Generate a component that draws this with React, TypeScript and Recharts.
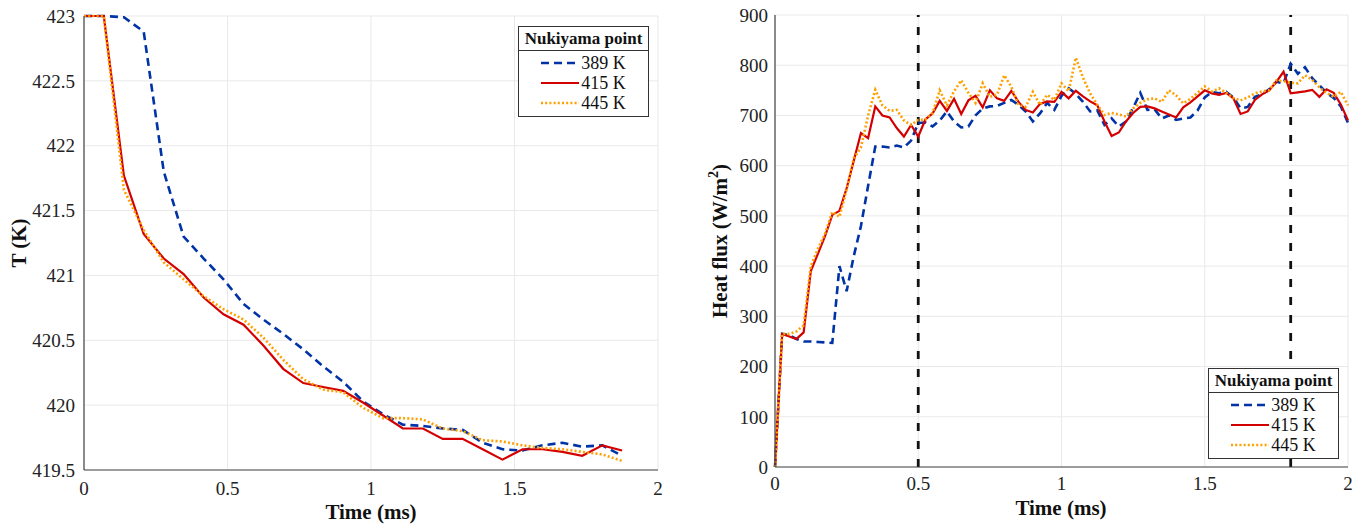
import React from "react";
import {
  CartesianGrid,
  Legend,
  Line,
  LineChart,
  ReferenceLine,
  XAxis,
  YAxis,
} from "recharts";

// ---- left panel: temperature (K) vs time (ms)
const leftTime = [
  0, 0.069, 0.139, 0.208, 0.278, 0.347, 0.417, 0.486, 0.556, 0.625, 0.694,
  0.764, 0.833, 0.903, 0.972, 1.042, 1.111, 1.181, 1.25, 1.319, 1.389, 1.458,
  1.528, 1.597, 1.667, 1.736, 1.806, 1.875,
];
const temp389 = [
  423, 423, 422.99, 422.88, 421.8, 421.3, 421.13, 420.97, 420.78, 420.66,
  420.55, 420.43, 420.3, 420.18, 420.03, 419.93, 419.85, 419.84, 419.82,
  419.81, 419.71, 419.66, 419.65, 419.69, 419.71, 419.68, 419.69, 419.61,
];
const temp415 = [
  423, 423, 421.77, 421.32, 421.13, 421.01, 420.83, 420.7, 420.62, 420.46,
  420.28, 420.17, 420.14, 420.11, 420.02, 419.92, 419.82, 419.82, 419.74,
  419.74, 419.66, 419.58, 419.66, 419.66, 419.64, 419.61, 419.69, 419.65,
];
const temp445 = [
  423, 423, 421.66, 421.35, 421.1, 420.97, 420.84, 420.74, 420.66, 420.52,
  420.35, 420.2, 420.12, 420.1, 419.98, 419.9, 419.9, 419.89, 419.82, 419.8,
  419.73, 419.72, 419.69, 419.67, 419.66, 419.64, 419.62, 419.57,
];

// ---- right panel: heat flux (W/m2) vs time (ms)
const rightTime = [
  0, 0.025, 0.05, 0.075, 0.1, 0.125, 0.15, 0.175, 0.2, 0.225, 0.25, 0.275,
  0.3, 0.325, 0.35, 0.375, 0.4, 0.425, 0.45, 0.475, 0.5, 0.525, 0.55, 0.575,
  0.6, 0.625, 0.65, 0.675, 0.7, 0.725, 0.75, 0.775, 0.8, 0.825, 0.85, 0.875,
  0.9, 0.925, 0.95, 0.975, 1, 1.025, 1.05, 1.075, 1.1, 1.125, 1.15, 1.175,
  1.2, 1.225, 1.25, 1.275, 1.3, 1.325, 1.35, 1.375, 1.4, 1.425, 1.45, 1.475,
  1.5, 1.525, 1.55, 1.575, 1.6, 1.625, 1.65, 1.675, 1.7, 1.725, 1.75, 1.775,
  1.8, 1.825, 1.85, 1.875, 1.9, 1.925, 1.95, 1.975, 2,
];
const flux389 = [
  0, 265, 262, 255, 250, 250, 249, 248, 247, 400, 350, 420, 480, 560, 638,
  638, 636, 640, 636, 650, 685, 686, 678, 690, 708, 688, 676, 678, 700, 714,
  718, 719, 725, 731, 721, 708, 688, 704, 725, 711, 739, 754, 743, 727, 708,
  710, 681, 694, 678, 688, 715, 745, 711, 712, 694, 700, 691, 694, 696, 710,
  736, 747, 744, 747, 736, 714, 717, 737, 742, 752, 767, 764, 803, 783, 796,
  774, 760, 745, 735, 718, 685,
];
const flux415 = [
  0, 265, 260, 255, 268, 390, 425, 460, 502, 510, 555, 610, 665, 655, 718,
  700, 696, 675, 658, 681, 658, 692, 704, 729, 709, 733, 703, 730, 739, 716,
  750, 734, 729, 749, 727, 711, 706, 723, 728, 727, 747, 734, 749, 738, 728,
  720, 688, 659, 666, 688, 705, 717, 718, 714, 708, 702, 696, 716, 726, 738,
  750, 744, 741, 745, 734, 703, 708, 731, 742, 750, 767, 787, 744, 746, 748,
  751, 737, 752, 745, 722, 690,
];
const flux445 = [
  0, 265, 265, 270, 282, 400, 435, 465, 508, 498, 552, 615, 636, 700, 751,
  720, 709, 711, 690, 681, 691, 692, 705, 750, 720, 748, 770, 745, 725, 764,
  737, 741, 780, 757, 721, 717, 747, 721, 741, 731, 764, 748, 815, 775, 744,
  721, 701, 705, 702, 698, 714, 725, 732, 734, 727, 750, 740, 724, 733, 745,
  758, 748, 754, 745, 735, 730, 736, 744, 748, 750, 770, 768, 765, 764, 780,
  771, 756, 745, 737, 747, 720,
];

const markers = [0.5, 1.8];
const timeTicks = [0, 0.5, 1, 1.5, 2];
const tempTicks = [419.5, 420, 420.5, 421, 421.5, 422, 422.5, 423];
const fluxTicks = [0, 100, 200, 300, 400, 500, 600, 700, 800, 900];

const SERIES = [
  { key: "k389", name: "389 K", color: "#0033a6", dash: "8 5", width: 2.6 },
  { key: "k415", name: "415 K", color: "#d40000", dash: undefined, width: 2.2 },
  { key: "k445", name: "445 K", color: "#ffa000", dash: "2 2.2", width: 2.6 },
];

const leftData = leftTime.map((t, i) => ({
  t,
  k389: temp389[i],
  k415: temp415[i],
  k445: temp445[i],
}));
const rightData = rightTime.map((t, i) => ({
  t,
  k389: flux389[i],
  k415: flux415[i],
  k445: flux445[i],
}));

const FONT = '"Liberation Serif", "Times New Roman", serif';
const TICK = { fontFamily: FONT, fontSize: 19, fill: "#222" };
const AXIS_LINE = { stroke: "#444", strokeWidth: 1.2 };
const GRID = "#e9e9e9";

function NukiLegend() {
  return (
    <div
      style={{
        border: "1.5px solid #333",
        background: "#fff",
        fontFamily: FONT,
        color: "#111",
        width: 129,
        paddingBottom: 3,
      }}
    >
      <div
        style={{
          fontWeight: "bold",
          fontSize: 17,
          textAlign: "center",
          borderBottom: "1.5px solid #333",
          height: 23,
          lineHeight: "23px",
        }}
      >
        Nukiyama point
      </div>
      <div style={{ paddingTop: 2 }}>
        {SERIES.map((s) => (
          <div
            key={s.key}
            style={{
              display: "flex",
              alignItems: "center",
              justifyContent: "center",
              height: 20,
              fontSize: 18,
            }}
          >
            <svg width={38} height={10} style={{ marginRight: 2 }}>
              <line
                x1={0}
                y1={5}
                x2={38}
                y2={5}
                stroke={s.color}
                strokeWidth={s.width}
                strokeDasharray={s.dash}
              />
            </svg>
            <span>{s.name}</span>
          </div>
        ))}
      </div>
    </div>
  );
}

function Series() {
  return SERIES.map((s) => (
    <Line
      key={s.key}
      type="linear"
      dataKey={s.key}
      name={s.name}
      stroke={s.color}
      strokeWidth={s.width}
      strokeDasharray={s.dash}
      dot={false}
      activeDot={false}
      isAnimationActive={false}
    />
  ));
}

export default function App() {
  return (
    <div
      style={{
        position: "absolute",
        left: 0,
        top: 0,
        width: 1364,
        height: 528,
        background: "#fff",
      }}
    >
      <div style={{ position: "absolute", left: 0, top: 0 }}>
        <LineChart
          width={680}
          height={528}
          data={leftData}
          margin={{ top: 16, right: 22, bottom: 28, left: 0 }}
        >
          <CartesianGrid stroke={GRID} strokeWidth={1} />
          <XAxis
            dataKey="t"
            type="number"
            domain={[0, 2]}
            ticks={timeTicks}
            tick={TICK}
            tickLine={false}
            tickSize={6}
            tickMargin={6}
            height={30}
            axisLine={AXIS_LINE}
            label={() => (
              <text
                x={371}
                y={519}
                textAnchor="middle"
                fontFamily={FONT}
                fontWeight="bold"
                fontSize={21}
                fill="#111"
              >
                Time (ms)
              </text>
            )}
          />
          <YAxis
            type="number"
            domain={[419.5, 423]}
            ticks={tempTicks}
            tick={TICK}
            tickLine={false}
            tickSize={5}
            tickMargin={4}
            width={84}
            axisLine={AXIS_LINE}
            label={() => (
              <text
                x={26}
                y={243}
                transform="rotate(-90 26 243)"
                textAnchor="middle"
                fontFamily={FONT}
                fontWeight="bold"
                fontSize={21}
                fill="#111"
              >
                T (K)
              </text>
            )}
          />
          {Series()}
          <Legend
            layout="vertical"
            align="center"
            verticalAlign="middle"
            content={() => <NukiLegend />}
            wrapperStyle={{ left: 518, top: 26, width: 132, height: 92 }}
          />
        </LineChart>
      </div>
      <div style={{ position: "absolute", left: 680, top: 0 }}>
        <LineChart
          width={684}
          height={528}
          data={rightData}
          margin={{ top: 15, right: 16, bottom: 31, left: 0 }}
        >
          <CartesianGrid stroke={GRID} strokeWidth={1} />
          <XAxis
            dataKey="t"
            type="number"
            domain={[0, 2]}
            ticks={timeTicks}
            tick={TICK}
            tickLine={false}
            tickSize={6}
            tickMargin={4}
            height={30}
            axisLine={AXIS_LINE}
            label={() => (
              <text
                x={381}
                y={515}
                textAnchor="middle"
                fontFamily={FONT}
                fontWeight="bold"
                fontSize={21}
                fill="#111"
              >
                Time (ms)
              </text>
            )}
          />
          <YAxis
            type="number"
            domain={[0, 900]}
            ticks={fluxTicks}
            tick={TICK}
            tickLine={false}
            tickSize={4}
            tickMargin={3}
            width={95}
            axisLine={AXIS_LINE}
            label={() => (
              <text
                x={47}
                y={241}
                transform="rotate(-90 47 241)"
                textAnchor="middle"
                fontFamily={FONT}
                fontWeight="bold"
                fontSize={21}
                fill="#111"
              >
                Heat flux (W/m
                <tspan dy={-9} fontSize={14}>
                  2
                </tspan>
                <tspan dy={9}>)</tspan>
              </text>
            )}
          />
          {markers.map((m) => (
            <ReferenceLine
              key={m}
              x={m}
              stroke="#111"
              strokeWidth={2.8}
              strokeDasharray="8 10"
            />
          ))}
          {Series()}
          <Legend
            layout="vertical"
            align="center"
            verticalAlign="middle"
            content={() => <NukiLegend />}
            wrapperStyle={{ left: 528, top: 368, width: 132, height: 92 }}
          />
        </LineChart>
      </div>
    </div>
  );
}
